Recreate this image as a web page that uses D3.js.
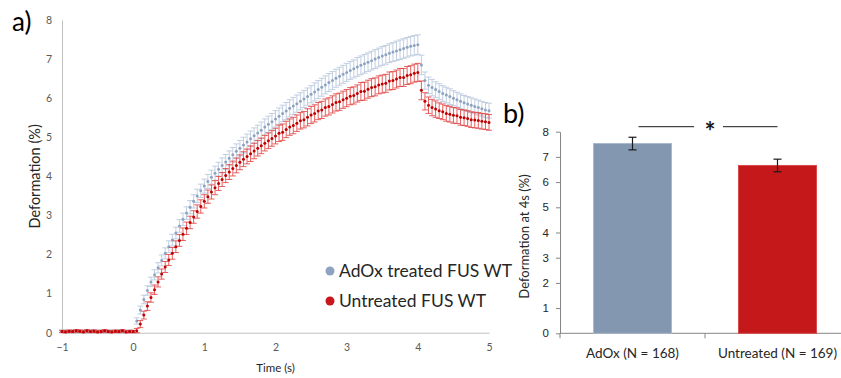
<!DOCTYPE html>
<html>
<head>
<meta charset="utf-8">
<script src="https://cdn.jsdelivr.net/npm/d3@7"></script>
<style>
  html, body { margin: 0; padding: 0; background: #ffffff; }
  svg { display: block; font-family: Lato, "Open Sans", sans-serif; }
</style>
</head>
<body>
<svg id="chart" width="841" height="378"></svg>
<script>
// ---- Panel a: deformation time courses (mean ± SEM) ----
const timeS = [
  -1.00,-0.95,-0.90,-0.85,-0.80,-0.75,-0.70,-0.65,-0.60,-0.55,-0.50,-0.45,-0.40,-0.35,-0.30,-0.25,-0.20,-0.15,-0.10,-0.05,
  0.00,0.05,0.10,0.15,0.20,0.25,0.30,0.35,0.40,0.45,0.50,0.55,0.60,0.65,0.70,0.75,0.80,0.85,0.90,0.95,
  1.00,1.05,1.10,1.15,1.20,1.25,1.30,1.35,1.40,1.45,1.50,1.55,1.60,1.65,1.70,1.75,1.80,1.85,1.90,1.95,
  2.00,2.05,2.10,2.15,2.20,2.25,2.30,2.35,2.40,2.45,2.50,2.55,2.60,2.65,2.70,2.75,2.80,2.85,2.90,2.95,
  3.00,3.05,3.10,3.15,3.20,3.25,3.30,3.35,3.40,3.45,3.50,3.55,3.60,3.65,3.70,3.75,3.80,3.85,3.90,3.95,
  4.00,4.05,4.10,4.15,4.20,4.25,4.30,4.35,4.40,4.45,4.50,4.55,4.60,4.65,4.70,4.75,4.80,4.85,4.90,4.95,
  5.00
];

const adoxMean = [
  0.04,0.04,0.03,0.04,0.03,0.04,0.04,0.03,0.04,0.05,0.04,0.04,0.03,0.04,0.04,0.03,0.04,0.04,0.03,0.04,
  0.03,0.30,0.58,0.85,1.08,1.30,1.48,1.66,1.85,2.03,2.20,2.37,2.55,2.73,2.90,3.06,3.21,3.36,3.50,3.63,
  3.75,3.87,3.98,4.08,4.18,4.28,4.37,4.46,4.55,4.64,4.72,4.80,4.88,4.96,5.04,5.11,5.18,5.26,5.33,5.40,
  5.47,5.54,5.61,5.67,5.74,5.80,5.86,5.92,5.98,6.04,6.10,6.16,6.22,6.28,6.34,6.40,6.45,6.51,6.56,6.61,
  6.66,6.71,6.75,6.80,6.84,6.88,6.92,6.96,7.00,7.04,7.08,7.11,7.15,7.18,7.21,7.24,7.27,7.30,7.33,7.35,
  7.37,6.85,6.45,6.33,6.27,6.22,6.17,6.12,6.08,6.04,6.00,5.96,5.92,5.88,5.85,5.82,5.79,5.76,5.73,5.70,
  5.68
];

const adoxSem = [
  0.03,0.03,0.03,0.03,0.03,0.03,0.03,0.03,0.03,0.03,0.03,0.03,0.03,0.03,0.03,0.03,0.03,0.03,0.03,0.03,
  0.03,0.08,0.10,0.11,0.12,0.12,0.13,0.13,0.14,0.14,0.15,0.15,0.15,0.16,0.16,0.16,0.17,0.17,0.17,0.17,
  0.18,0.18,0.18,0.18,0.18,0.19,0.19,0.19,0.19,0.19,0.20,0.20,0.20,0.20,0.20,0.20,0.21,0.21,0.21,0.21,
  0.21,0.21,0.21,0.22,0.22,0.22,0.22,0.22,0.22,0.22,0.22,0.23,0.23,0.23,0.23,0.23,0.23,0.23,0.23,0.23,
  0.23,0.23,0.23,0.24,0.24,0.24,0.24,0.24,0.24,0.24,0.24,0.24,0.24,0.24,0.25,0.25,0.25,0.25,0.25,0.25,
  0.25,0.25,0.22,0.21,0.21,0.20,0.20,0.20,0.20,0.20,0.19,0.19,0.19,0.19,0.19,0.19,0.19,0.19,0.19,0.19,
  0.19
];

const untreatedMean = [
  0.03,0.02,0.04,0.03,0.05,0.04,0.02,0.05,0.03,0.04,0.02,0.03,0.05,0.03,0.02,0.04,0.03,0.05,0.02,0.03,
  0.03,0.05,0.22,0.45,0.68,0.90,1.10,1.30,1.50,1.68,1.86,2.03,2.20,2.36,2.52,2.67,2.82,2.96,3.10,3.23,
  3.36,3.48,3.60,3.71,3.82,3.92,4.02,4.11,4.20,4.28,4.36,4.44,4.51,4.58,4.65,4.72,4.78,4.85,4.91,4.97,
  5.03,5.10,5.13,5.20,5.26,5.30,5.36,5.42,5.45,5.51,5.57,5.61,5.67,5.70,5.76,5.79,5.84,5.89,5.91,5.96,
  6.00,6.05,6.07,6.12,6.17,6.18,6.23,6.27,6.29,6.34,6.36,6.38,6.44,6.45,6.49,6.53,6.53,6.58,6.60,6.64,
  6.66,6.20,5.92,5.82,5.76,5.72,5.68,5.65,5.61,5.59,5.56,5.55,5.51,5.50,5.48,5.45,5.44,5.43,5.41,5.40,
  5.38
];

const untreatedSem = [
  0.03,0.03,0.03,0.03,0.03,0.03,0.03,0.03,0.03,0.03,0.03,0.03,0.03,0.03,0.03,0.03,0.03,0.03,0.03,0.03,
  0.03,0.06,0.09,0.10,0.11,0.12,0.12,0.13,0.13,0.14,0.14,0.15,0.15,0.15,0.16,0.16,0.16,0.16,0.17,0.17,
  0.17,0.17,0.18,0.18,0.18,0.18,0.18,0.19,0.19,0.19,0.19,0.19,0.19,0.20,0.20,0.20,0.20,0.20,0.20,0.20,
  0.20,0.21,0.21,0.21,0.21,0.21,0.21,0.21,0.21,0.22,0.22,0.22,0.22,0.22,0.22,0.22,0.22,0.22,0.22,0.22,
  0.22,0.22,0.22,0.22,0.23,0.23,0.23,0.23,0.23,0.23,0.23,0.23,0.23,0.23,0.23,0.23,0.23,0.23,0.23,0.23,
  0.23,0.24,0.22,0.21,0.21,0.21,0.20,0.20,0.20,0.20,0.20,0.20,0.20,0.20,0.20,0.20,0.20,0.20,0.20,0.20,
  0.20
];

const seriesNames = ["AdOx treated FUS WT", "Untreated FUS WT"];
const timeTicks = [-1, 0, 1, 2, 3, 4, 5];
const deformTicks = [0, 1, 2, 3, 4, 5, 6, 7, 8];

// ---- Panel b: deformation at 4 s ----
const groups = ["AdOx (N = 168)", "Untreated (N = 169)"];
const groupMeans = [7.53, 6.66];
const groupErrors = [0.25, 0.25];
const barTicks = [0, 1, 2, 3, 4, 5, 6, 7, 8];

const colors = {
  adoxMark: "#8ea3c0", adoxErr: "#b3c3d9",
  untrMark: "#c00000", untrErr: "#e03a3a",
  adoxBar: "#8497b0", untrBar: "#c4181b",
  tick: "#595959", axisA: "#c0c0c0", axisB: "#868686"
};

const svg = d3.select("#chart");

// ================= Panel a =================
const xA = d3.scaleLinear().domain([-1, 5]).range([62, 489]);
const yA = d3.scaleLinear().domain([0, 8]).range([332.7, 20]);

const gA = svg.append("g");

const yAxisA = gA.append("g")
  .attr("transform", `translate(${xA(-1)},0)`)
  .call(d3.axisLeft(yA).tickValues(deformTicks).tickSize(0).tickPadding(10));
const xAxisA = gA.append("g")
  .attr("transform", `translate(0,${yA(0)})`)
  .call(d3.axisBottom(xA).tickValues(timeTicks).tickSize(0).tickPadding(11).tickFormat(d3.format("d")));
[yAxisA, xAxisA].forEach(ax => {
  ax.select(".domain").attr("stroke", colors.axisA).attr("stroke-width", 1);
  ax.selectAll("text").attr("fill", colors.tick).style("font-size", "10.5px").style("font-family", "Lato, sans-serif");
});

function drawSeries(mean, sem, markColor, errColor) {
  const pts = timeS.map((t, i) => ({ t, v: mean[i], e: sem[i] }));
  const g = gA.append("g");
  const eb = g.append("g").attr("stroke", errColor).attr("stroke-width", 1).attr("stroke-opacity", 0.8);
  pts.forEach(p => {
    const x = xA(p.t), y1 = yA(p.v + p.e), y0 = yA(Math.max(0, p.v - p.e));
    eb.append("line").attr("x1", x).attr("x2", x).attr("y1", y1).attr("y2", y0);
    eb.append("line").attr("x1", x - 3).attr("x2", x + 3).attr("y1", y1).attr("y2", y1);
    eb.append("line").attr("x1", x - 3).attr("x2", x + 3).attr("y1", y0).attr("y2", y0);
  });
  g.append("g").selectAll("circle").data(pts).join("circle")
    .attr("cx", d => xA(d.t)).attr("cy", d => yA(d.v))
    .attr("r", 1.5).attr("fill", markColor);
}
drawSeries(adoxMean, adoxSem, colors.adoxMark, colors.adoxErr);
drawSeries(untreatedMean, untreatedSem, colors.untrMark, colors.untrErr);

gA.append("text")
  .attr("x", (xA(-1) + xA(5)) / 2).attr("y", 372)
  .attr("text-anchor", "middle").attr("fill", "#262626")
  .style("font-size", "11.5px").text("Time (s)");

gA.append("text")
  .attr("transform", `translate(40,${(yA(0) + yA(8)) / 2}) rotate(-90)`)
  .attr("text-anchor", "middle").attr("fill", "#262626")
  .style("font-size", "14.5px").text("Deformation (%)");

// legend
const legend = gA.append("g").attr("transform", "translate(330,271)");
[colors.adoxMark, colors.untrMark].forEach((c, i) => {
  const row = legend.append("g").attr("transform", `translate(0,${i * 30})`);
  row.append("circle").attr("r", 4.5).attr("fill", i === 0 ? "#8ea3c0" : "#c8161b");
  row.append("text").attr("x", 9).attr("y", 6)
    .attr("fill", "#262626").style("font-size", "17.5px").text(seriesNames[i]);
});

svg.append("text").attr("x", 12).attr("y", 31)
  .attr("fill", "#000").style("font-size", "26px").style("font-family", "Lato, sans-serif").text("a)");

// ================= Panel b =================
const xB = d3.scaleBand().domain(groups).range([560, 850]).paddingInner(0.462).paddingOuter(0.231);
const yB = d3.scaleLinear().domain([0, 8]).range([333.3, 131.7]);

const gB = svg.append("g");

const yAxisB = gB.append("g")
  .attr("transform", "translate(560,0)")
  .call(d3.axisLeft(yB).tickValues(barTicks).tickSize(4).tickSizeOuter(0).tickPadding(7));
yAxisB.select(".domain").attr("stroke", colors.axisB);
yAxisB.selectAll(".tick line").attr("stroke", colors.axisB);
yAxisB.selectAll("text").attr("fill", "#262626").style("font-size", "11.5px");

// category axis with tick marks at the band boundaries
const bandEdges = [560, xB(groups[1]) - xB.step() * xB.paddingInner() / 2, 850];
const xAxisB = gB.append("g");
xAxisB.append("line").attr("x1", 560).attr("x2", 850)
  .attr("y1", yB(0)).attr("y2", yB(0)).attr("stroke", colors.axisB);
bandEdges.forEach(x => xAxisB.append("line")
  .attr("x1", x).attr("x2", x).attr("y1", yB(0)).attr("y2", yB(0) + 5).attr("stroke", colors.axisB));
groups.forEach(g => xAxisB.append("text")
  .attr("x", xB(g) + xB.bandwidth() / 2).attr("y", yB(0) + 25)
  .attr("text-anchor", "middle").attr("fill", "#262626")
  .style("font-size", "13.5px").text(g));

const barColors = [colors.adoxBar, colors.untrBar];
gB.append("g").selectAll("rect").data(groups).join("rect")
  .attr("x", d => xB(d)).attr("width", xB.bandwidth())
  .attr("y", (d, i) => yB(groupMeans[i]))
  .attr("height", (d, i) => yB(0) - yB(groupMeans[i]))
  .attr("fill", (d, i) => barColors[i])
  .attr("stroke", (d, i) => i === 0 ? "#a9b8cc" : "#d84a4c").attr("stroke-width", 1);

// error bars
const ebB = gB.append("g").attr("stroke", "#1a1a1a").attr("stroke-width", 1.2);
groups.forEach((g, i) => {
  const cx = xB(g) + xB.bandwidth() / 2;
  const top = yB(groupMeans[i] + groupErrors[i]), bot = yB(groupMeans[i] - groupErrors[i]);
  ebB.append("line").attr("x1", cx).attr("x2", cx).attr("y1", top).attr("y2", bot);
  ebB.append("line").attr("x1", cx - 4).attr("x2", cx + 4).attr("y1", top).attr("y2", top);
  ebB.append("line").attr("x1", cx - 4).attr("x2", cx + 4).attr("y1", bot).attr("y2", bot);
});

// significance bracket
const c1 = xB(groups[0]) + xB.bandwidth() / 2, c2 = xB(groups[1]) + xB.bandwidth() / 2;
const mid = (c1 + c2) / 2 + 5;
const sigY = 126.7;
gB.append("line").attr("x1", c1 + 6).attr("x2", mid - 16).attr("y1", sigY).attr("y2", sigY).attr("stroke", "#1a1a1a");
gB.append("line").attr("x1", mid + 13).attr("x2", c2).attr("y1", sigY).attr("y2", sigY).attr("stroke", "#1a1a1a");
gB.append("text").attr("x", mid).attr("y", sigY + 14)
  .attr("text-anchor", "middle").attr("fill", "#1a1a1a")
  .style("font-size", "26px").style("font-weight", "bold").text("*");

gB.append("text")
  .attr("transform", `translate(529,${(yB(0) + yB(8)) / 2 + 4}) rotate(-90)`)
  .attr("text-anchor", "middle").attr("fill", "#262626")
  .style("font-size", "13px").text("Deformation at 4s (%)");

svg.append("text").attr("x", 503).attr("y", 123)
  .attr("fill", "#000").style("font-size", "27px").style("font-family", "Lato, sans-serif").text("b)");
</script>
</body>
</html>
